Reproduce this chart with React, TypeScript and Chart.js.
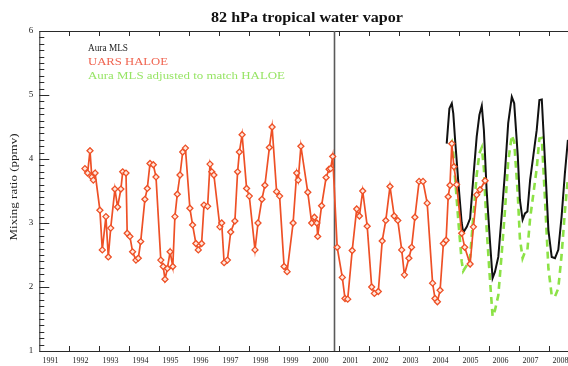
import React, { useEffect, useRef } from 'react';
import { Chart, registerables } from 'chart.js';

Chart.register(...registerables);

const TITLE = '82 hPa tropical water vapor';
const Y_TITLE = 'Mixing ratio (ppmv)';
const LEGEND_LABELS = ['Aura MLS', 'UARS HALOE', 'Aura MLS adjusted to match HALOE'];
const X_LABELS = ['1991', '1992', '1993', '1994', '1995', '1996', '1997', '1998', '1999', '2000', '2001', '2002', '2003', '2004', '2005', '2006', '2007', '2008'];
const X_TICK_YEARS = [1992, 1993, 1994, 1995, 1996, 1997, 1998, 1999, 2000, 2001, 2002, 2003, 2004, 2005, 2006, 2007, 2008, 2009];
const DIVIDER_YEAR = 2000.84;

// [decimal year, ppmv]
const HALOE: number[][] = [
  [1992.52, 3.85], [1992.61, 3.78], [1992.69, 4.13], [1992.75, 3.72], [1992.8, 3.67], [1992.86, 3.78],
  [1993.02, 3.2], [1993.1, 2.58], [1993.22, 3.1], [1993.3, 2.47], [1993.38, 2.92], [1993.52, 3.53],
  [1993.61, 3.25], [1993.72, 3.53], [1993.78, 3.8], [1993.89, 3.78], [1993.93, 2.84], [1994.02, 2.79],
  [1994.11, 2.55], [1994.22, 2.42], [1994.3, 2.45], [1994.38, 2.71], [1994.52, 3.37], [1994.6, 3.54],
  [1994.69, 3.93], [1994.8, 3.91], [1994.89, 3.72], [1995.05, 2.42], [1995.13, 2.32], [1995.19, 2.12],
  [1995.27, 2.29], [1995.36, 2.55], [1995.45, 2.32], [1995.52, 3.1], [1995.6, 3.45], [1995.69, 3.75],
  [1995.78, 4.11], [1995.87, 4.17], [1996.02, 3.23], [1996.11, 2.97], [1996.22, 2.68], [1996.3, 2.58],
  [1996.41, 2.68], [1996.49, 3.28], [1996.61, 3.26], [1996.69, 3.92], [1996.75, 3.8], [1996.82, 3.75],
  [1997.02, 2.94], [1997.08, 3.0], [1997.16, 2.38], [1997.27, 2.42], [1997.38, 2.86], [1997.52, 3.03],
  [1997.61, 3.8], [1997.67, 4.11], [1997.76, 4.38], [1997.91, 3.54], [1998.0, 3.42], [1998.19, 2.58],
  [1998.29, 3.0], [1998.42, 3.37], [1998.52, 3.59], [1998.67, 4.18], [1998.76, 4.5], [1998.91, 3.49],
  [1999.01, 3.42], [1999.16, 2.32], [1999.26, 2.24], [1999.46, 3.0], [1999.58, 3.78], [1999.63, 3.67],
  [1999.72, 4.2], [1999.95, 3.48], [2000.08, 3.0], [2000.17, 3.09], [2000.25, 3.0], [2000.28, 2.79],
  [2000.41, 3.27], [2000.56, 3.71], [2000.66, 3.84], [2000.71, 3.85], [2000.78, 4.04], [2000.93, 2.62],
  [2001.1, 2.15], [2001.19, 1.82], [2001.28, 1.81], [2001.43, 2.57], [2001.58, 3.22], [2001.67, 3.11],
  [2001.78, 3.5], [2001.93, 2.95], [2002.08, 2.0], [2002.17, 1.9], [2002.3, 1.93], [2002.43, 2.72],
  [2002.55, 3.04], [2002.69, 3.57], [2002.83, 3.11], [2002.95, 3.04], [2003.08, 2.58], [2003.17, 2.19],
  [2003.32, 2.45], [2003.41, 2.62], [2003.52, 3.09], [2003.66, 3.65], [2003.79, 3.65], [2003.93, 3.31],
  [2004.11, 2.06], [2004.19, 1.82], [2004.27, 1.77], [2004.36, 1.95], [2004.47, 2.68], [2004.56, 2.73],
  [2004.63, 3.41], [2004.69, 3.59], [2004.75, 4.24], [2004.82, 3.88], [2004.91, 3.6], [2005.08, 2.84],
  [2005.18, 2.62], [2005.36, 2.36], [2005.47, 2.94], [2005.58, 3.44], [2005.69, 3.52], [2005.86, 3.66],
];

const AURA: number[][] = [
  [2004.58, 4.24], [2004.67, 4.79], [2004.75, 4.87], [2004.8, 4.71], [2004.86, 4.3], [2004.97, 3.62],
  [2005.08, 3.0], [2005.13, 2.85], [2005.25, 2.94], [2005.36, 3.07], [2005.47, 3.72], [2005.58, 4.35],
  [2005.67, 4.69], [2005.75, 4.83], [2005.82, 4.45], [2005.91, 3.52], [2006.02, 2.73], [2006.11, 2.14],
  [2006.19, 2.24], [2006.3, 2.47], [2006.41, 3.1], [2006.52, 3.78], [2006.63, 4.56], [2006.75, 4.97],
  [2006.83, 4.87], [2006.95, 4.04], [2007.02, 3.36], [2007.11, 3.05], [2007.19, 3.15], [2007.27, 3.18],
  [2007.36, 3.67], [2007.47, 4.06], [2007.58, 4.45], [2007.67, 4.92], [2007.75, 4.93], [2007.86, 3.93],
  [2007.97, 2.89], [2008.08, 2.47], [2008.19, 2.45], [2008.3, 2.58], [2008.41, 3.1], [2008.52, 3.78],
  [2008.62, 4.3],
];

const AURA_ADJ: number[][] = [
  [2004.71, 4.24], [2004.75, 4.27], [2004.8, 4.1], [2004.86, 3.7], [2004.97, 3.02], [2005.08, 2.4],
  [2005.13, 2.25], [2005.25, 2.34], [2005.36, 2.47], [2005.47, 3.12], [2005.58, 3.75], [2005.67, 4.09],
  [2005.75, 4.18], [2005.82, 3.85], [2005.91, 2.92], [2006.02, 2.13], [2006.11, 1.54], [2006.19, 1.64],
  [2006.3, 1.87], [2006.41, 2.5], [2006.52, 3.18], [2006.63, 3.96], [2006.75, 4.37], [2006.83, 4.27],
  [2006.95, 3.44], [2007.02, 2.76], [2007.11, 2.45], [2007.19, 2.55], [2007.27, 2.58], [2007.36, 3.07],
  [2007.47, 3.46], [2007.58, 3.85], [2007.67, 4.32], [2007.75, 4.33], [2007.86, 3.33], [2007.97, 2.29],
  [2008.08, 1.87], [2008.19, 1.85], [2008.3, 1.98], [2008.41, 2.5], [2008.52, 3.18], [2008.62, 3.7],
];

const SERIF = '"Liberation Serif", "Times New Roman", serif';
const AXIS_COLOR = '#2a2a2a';
const HALOE_COLOR = 'rgb(238,80,38)';
const AURA_COLOR = '#111111';
const ADJ_COLOR = 'rgb(140,226,70)';

function fitText(
  ctx: CanvasRenderingContext2D, text: string, x: number, y: number, width: number,
  font: string, color: string, align: CanvasTextAlign, rotate = false,
) {
  ctx.save();
  ctx.font = font;
  ctx.fillStyle = color;
  ctx.textBaseline = 'middle';
  ctx.textAlign = align;
  const w = ctx.measureText(text).width || 1;
  ctx.translate(x, y);
  if (rotate) ctx.rotate(-Math.PI / 2);
  ctx.scale(width / w, 1);
  ctx.fillText(text, 0, 0);
  ctx.restore();
}

const frame = {
  id: 'frame',
  beforeDatasetsDraw(chart: any) {
    const { ctx, chartArea: a, scales } = chart;
    const x = scales.x;
    const y = scales.y;
    ctx.save();
    ctx.strokeStyle = AXIS_COLOR;
    ctx.lineWidth = 1;
    ctx.beginPath();
    ctx.moveTo(a.right, a.top + 0.5);
    ctx.lineTo(a.left + 0.5, a.top + 0.5);
    ctx.lineTo(a.left + 0.5, a.bottom + 0.5);
    ctx.lineTo(a.right, a.bottom + 0.5);
    for (const yr of X_TICK_YEARS) {
      const px = Math.round(x.getPixelForValue(yr)) + 0.5;
      ctx.moveTo(px, a.bottom);
      ctx.lineTo(px, a.bottom - 5);
      ctx.moveTo(px, a.top);
      ctx.lineTo(px, a.top + 5);
    }
    for (let i = 10; i <= 60; i++) {
      const py = Math.round(y.getPixelForValue(i / 10)) + 0.5;
      const len = i % 10 === 0 ? 10 : 5;
      ctx.moveTo(a.left, py);
      ctx.lineTo(a.left + len, py);
    }
    ctx.stroke();
    const dx = x.getPixelForValue(DIVIDER_YEAR);
    ctx.strokeStyle = '#5a5a5a';
    ctx.lineWidth = 1.6;
    ctx.beginPath();
    ctx.moveTo(dx, a.top);
    ctx.lineTo(dx, a.bottom);
    ctx.stroke();
    ctx.restore();
  },
  afterDraw(chart: any) {
    const { ctx } = chart;
    fitText(ctx, TITLE, 307, 18, 192, `bold 15px ${SERIF}`, '#111', 'center');
    fitText(ctx, LEGEND_LABELS[0], 88, 48.5, 40, `10.5px ${SERIF}`, '#222', 'left');
    fitText(ctx, LEGEND_LABELS[1], 88, 62.5, 80, `10.5px ${SERIF}`, 'rgb(240,100,80)', 'left');
    fitText(ctx, LEGEND_LABELS[2], 88, 76.5, 197, `10.5px ${SERIF}`, 'rgb(150,228,100)', 'left');
    fitText(ctx, Y_TITLE, 14, 187, 107, `10px ${SERIF}`, '#222', 'center', true);
  },
};

const toXY = (arr: number[][]) => arr.map(([x, y]) => ({ x, y }));

export default function App() {
  const ref = useRef<HTMLCanvasElement>(null);
  useEffect(() => {
    if (!ref.current) return;
    const chart = new Chart(ref.current, {
      type: 'line',
      data: {
        datasets: [
          {
            label: LEGEND_LABELS[1],
            data: toXY(HALOE),
            borderColor: HALOE_COLOR,
            borderWidth: 1.7,
            pointStyle: 'rectRot',
            pointRadius: 3,
            pointBorderWidth: 1.3,
            pointBorderColor: HALOE_COLOR,
            pointBackgroundColor: 'rgb(255,232,222)',
            tension: 0,
          },
          {
            label: LEGEND_LABELS[0],
            data: toXY(AURA),
            borderColor: AURA_COLOR,
            borderWidth: 2,
            pointRadius: 0,
            tension: 0,
          },
          {
            label: LEGEND_LABELS[2],
            data: toXY(AURA_ADJ),
            borderColor: ADJ_COLOR,
            borderWidth: 2.6,
            borderDash: [7, 5],
            pointRadius: 0,
            tension: 0,
          },
        ],
      },
      options: {
        animation: false,
        responsive: false,
        devicePixelRatio: 1,
        layout: { padding: { top: 31, right: 5.7, left: 0, bottom: 0 } },
        plugins: { legend: { display: false }, tooltip: { enabled: false }, title: { display: false } },
        scales: {
          x: {
            type: 'linear',
            min: 1991,
            max: 2009.5,
            afterBuildTicks: (s: any) => {
              s.ticks = X_LABELS.map((_, i) => ({ value: 1991.37 + i }));
            },
            afterFit: (s: any) => { s.height = 15; },
            ticks: {
              autoSkip: false,
              maxRotation: 0,
              padding: 5,
              color: '#222',
              font: { family: SERIF, size: 8 },
              callback: (_v: any, i: number) => X_LABELS[i],
            },
            grid: { display: false, drawTicks: false },
            border: { display: false },
          },
          y: {
            type: 'linear',
            min: 1,
            max: 6,
            afterFit: (s: any) => { s.width = 39.3; },
            ticks: {
              stepSize: 1,
              padding: 6,
              color: '#222',
              font: { family: SERIF, size: 9 },
            },
            grid: { display: false, drawTicks: false },
            border: { display: false },
          },
        },
      },
      plugins: [frame],
    } as any);
    return () => chart.destroy();
  }, []);
  return (
    <div style={{ position: 'fixed', left: 0, top: 0, width: 568, height: 366, overflow: 'hidden', background: '#fff' }}>
      <canvas ref={ref} width={600} height={366} style={{ display: 'block', width: 600, height: 366 }} />
    </div>
  );
}
